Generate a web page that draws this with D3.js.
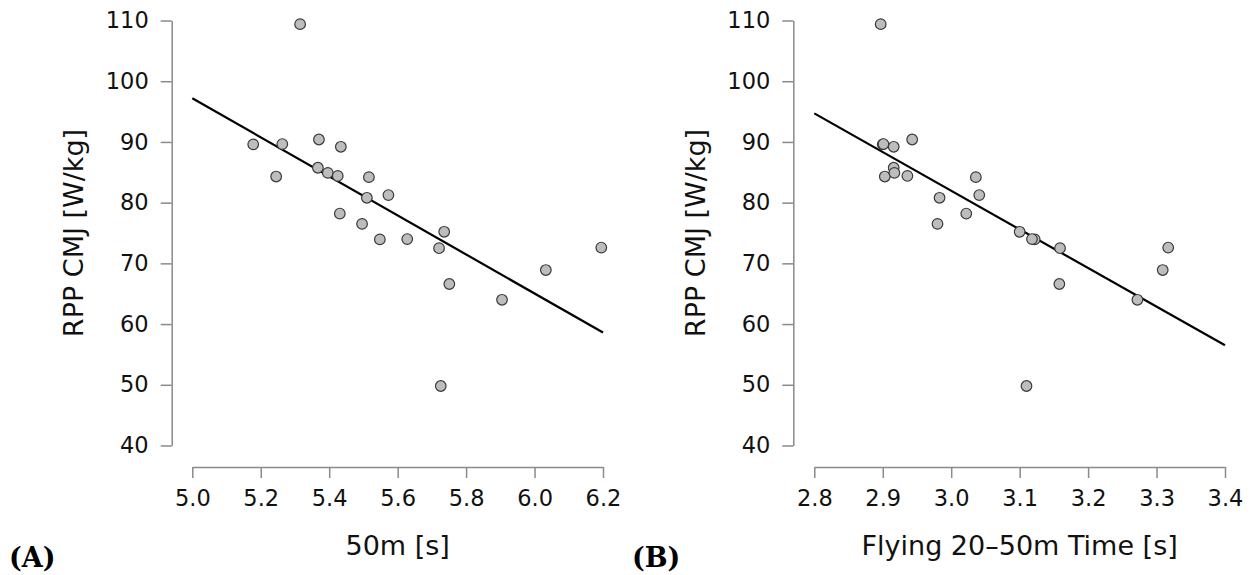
<!DOCTYPE html>
<html>
<head>
<meta charset="utf-8">
<script src="https://cdn.jsdelivr.net/npm/d3@7"></script>
<style>
  html, body { margin: 0; padding: 0; background: #fff; }
  svg { display: block; }
  .tick text { font-family: "DejaVu Sans", sans-serif; font-size: 22.5px; fill: #111; }
</style>
</head>
<body>
<svg id="chart" width="1255" height="575"></svg>
<script>
// ---- Data ----
const rppCMJ = [109.4, 89.6, 89.65, 84.3, 90.4, 89.2, 85.75, 84.9, 84.4, 84.2, 80.8, 81.25,
                78.2, 76.5, 73.95, 74.0, 75.2, 72.5, 72.6, 68.9, 66.6, 64.0, 49.8];
const time50m = [5.315, 5.178, 5.263, 5.245, 5.370, 5.434, 5.367, 5.396, 5.425, 5.516, 5.510, 5.573,
                 5.431, 5.496, 5.548, 5.628, 5.736, 5.721, 6.195, 6.033, 5.751, 5.905, 5.726];
const flying2050 = [2.897, 2.900, 2.901, 2.903, 2.943, 2.916, 2.916, 2.917, 2.936, 3.036, 2.983, 3.041,
                    3.022, 2.980, 3.122, 3.118, 3.100, 3.159, 3.317, 3.309, 3.158, 3.272, 3.110];
// regression line end points [x, y]
const fitA = [[5.0, 97.2], [6.2, 58.6]];
const fitB = [[2.8, 94.7], [3.4, 56.5]];
const yTicks = [40, 50, 60, 70, 80, 90, 100, 110];
const xTicksA = [5.0, 5.2, 5.4, 5.6, 5.8, 6.0, 6.2];
const xTicksB = [2.8, 2.9, 3.0, 3.1, 3.2, 3.3, 3.4];
const yLabel = "RPP CMJ [W/kg]";
const xLabelA = "50m [s]";
const xLabelB = "Flying 20\u201350m Time [s]";
const panelTags = ["(A)", "(B)"];

// ---- Layout ----
const svg = d3.select("#chart");
const axisColor = "#8a8a8a";
const yTop = 20.5, yBot = 445.5, xAxisY = 467;

const panels = [
  { xs: time50m, ticks: xTicksA, fit: fitA, xLabel: xLabelA, tag: panelTags[0],
    yAxisX: 171.7, xRange: [192.3, 603], tagX: 9 },
  { xs: flying2050, ticks: xTicksB, fit: fitB, xLabel: xLabelB, tag: panelTags[1],
    yAxisX: 793.3, xRange: [814.3, 1225], tagX: 632 }
];

panels.forEach(p => {
  const x = d3.scaleLinear().domain([p.ticks[0], p.ticks[p.ticks.length - 1]]).range(p.xRange);
  const y = d3.scaleLinear().domain([yTicks[0], yTicks[yTicks.length - 1]]).range([yBot, yTop]);
  const g = svg.append("g");

  // y axis
  const ya = g.append("g").attr("transform", `translate(${p.yAxisX},0)`)
    .call(d3.axisLeft(y).tickValues(yTicks).tickSize(11).tickSizeOuter(0).tickPadding(12)
      .tickFormat(d3.format("d")));
  ya.select(".domain").attr("stroke", axisColor).attr("stroke-width", 1.5);
  ya.selectAll(".tick line").attr("stroke", axisColor).attr("stroke-width", 1.5);

  // x axis
  const xa = g.append("g").attr("transform", `translate(0,${xAxisY})`)
    .call(d3.axisBottom(x).tickValues(p.ticks).tickSize(11).tickSizeOuter(0).tickPadding(12)
      .tickFormat(d3.format(".1f")));
  xa.select(".domain").attr("stroke", axisColor).attr("stroke-width", 1.5);
  xa.selectAll(".tick line").attr("stroke", axisColor).attr("stroke-width", 1.5);

  // regression line
  g.append("path")
    .datum(p.fit)
    .attr("d", d3.line().x(d => x(d[0])).y(d => y(d[1])))
    .attr("fill", "none").attr("stroke", "#000").attr("stroke-width", 2.2);

  // points
  g.append("g").selectAll("circle")
    .data(p.xs.map((v, i) => [v, rppCMJ[i]]))
    .join("circle")
    .attr("cx", d => x(d[0])).attr("cy", d => y(d[1]))
    .attr("r", 5.3)
    .attr("fill", "#bdbdbd").attr("stroke", "#3a3a3a").attr("stroke-width", 1.2);

  // axis titles
  g.append("text")
    .attr("x", (p.xRange[0] + p.xRange[1]) / 2).attr("y", 555)
    .attr("text-anchor", "middle")
    .style("font-family", "DejaVu Sans, sans-serif").style("font-size", "27px").style("fill", "#111")
    .text(p.xLabel);
  g.append("text")
    .attr("transform", `translate(${p.yAxisX - 88.5},${(yTop + yBot) / 2}) rotate(-90)`)
    .attr("text-anchor", "middle")
    .style("font-family", "DejaVu Sans, sans-serif").style("font-size", "27px").style("fill", "#111")
    .text(yLabel);

  // panel tag
  g.append("text")
    .attr("x", p.tagX).attr("y", 567)
    .style("font-family", "DejaVu Serif, serif").style("font-weight", "bold")
    .style("font-size", "27px").style("fill", "#000")
    .text(p.tag);
});
</script>
</body>
</html>
